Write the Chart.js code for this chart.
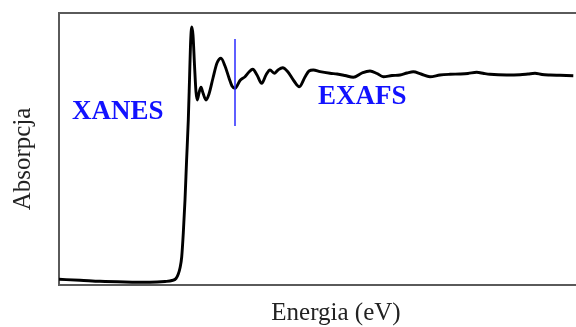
<!DOCTYPE html>
<html>
<head>
<meta charset="utf-8">
<script src="https://cdn.jsdelivr.net/npm/chart.js@4/dist/chart.umd.min.js"></script>
<style>
  html, body { margin: 0; padding: 0; background: #fff; overflow: hidden; }
  #wrap { width: 576px; height: 327px; position: relative; }
</style>
</head>
<body>
<div id="wrap"><canvas id="c" width="576" height="327"></canvas></div>
<script>
// Energy (arbitrary units) and absorption (arbitrary units)
const energy = [0, 21, 41, 66, 91, 106, 113, 117, 119.3, 121, 122.7, 124.3, 126, 127.6, 129.3, 130.5, 131.5, 132.7, 134, 135.5, 137, 138.3, 140, 142, 144, 147, 150, 154, 158, 162, 166, 170, 173, 176, 181, 186, 190, 193.7, 198, 202.7, 207, 211, 215.3, 219, 223.7, 229, 235, 240.3, 246, 250, 254.3, 261, 271, 278, 286, 294.3, 303, 311, 318, 324.3, 333, 341, 348, 354.3, 362, 371, 381, 391, 401, 409, 417.7, 425, 431, 447.7, 461, 469, 476, 483, 491, 501, 514.3];
const absorption = [5.7, 4.8, 3.7, 3, 2.7, 3.5, 4.5, 6.5, 11, 17, 28, 52, 85, 125, 165, 205, 240, 258, 250, 220, 193, 185, 192, 197.7, 192, 185, 191, 207, 222, 226.7, 219, 207, 199, 196.7, 204.5, 208.3, 213, 215.7, 210, 201.7, 210, 215, 211.7, 215, 217.3, 213, 204, 198.3, 208, 214, 215, 213.3, 211.7, 211, 209.5, 207.7, 212, 214, 211.5, 208.3, 209.5, 210, 212, 213.3, 211, 208.3, 210, 210.7, 211, 211.5, 212.7, 211.5, 210.7, 210, 210.3, 211, 211.7, 210.5, 210, 209.7, 209.3];

// XANES / EXAFS boundary energy and its marker extent
const boundaryEnergy = 176;
const boundaryRange = [159, 246];

// Region labels
const regionLabels = ['XANES', 'EXAFS'];
const regionLabelAnchors = [[13, 166.5], [259, 181]];

const xTitle = 'Energia (eV)';
const yTitle = 'Absorpcja';

const points = energy.map((e, i) => ({ x: e, y: absorption[i] }));

const decorPlugin = {
  id: 'decor',
  beforeDatasetsDraw(chart) {
    const { ctx, chartArea: a } = chart;
    ctx.save();
    ctx.strokeStyle = '#5a5a5a';
    ctx.lineWidth = 2;
    ctx.beginPath();
    ctx.moveTo(576, a.top);
    ctx.lineTo(a.left, a.top);
    ctx.lineTo(a.left, a.bottom);
    ctx.lineTo(576, a.bottom);
    ctx.stroke();
    ctx.restore();
  },
  afterDatasetsDraw(chart) {
    const { ctx, scales: { x, y } } = chart;
    ctx.save();
    // boundary line
    ctx.strokeStyle = '#2a2aff';
    ctx.lineWidth = 1.5;
    const bx = x.getPixelForValue(boundaryEnergy);
    ctx.beginPath();
    ctx.moveTo(bx, y.getPixelForValue(boundaryRange[1]));
    ctx.lineTo(bx, y.getPixelForValue(boundaryRange[0]));
    ctx.stroke();
    // region labels
    ctx.fillStyle = '#1212ff';
    ctx.font = 'bold 27px "Liberation Serif", "Times New Roman", serif';
    ctx.textBaseline = 'alphabetic';
    ctx.textAlign = 'left';
    regionLabels.forEach((t, i) => {
      ctx.fillText(t, x.getPixelForValue(regionLabelAnchors[i][0]), y.getPixelForValue(regionLabelAnchors[i][1]));
    });
    // axis titles
    ctx.fillStyle = '#222';
    ctx.font = '25px "Liberation Serif", "Times New Roman", serif';
    ctx.textAlign = 'center';
    ctx.fillText(xTitle, 336, 320);
    ctx.translate(30, 159);
    ctx.rotate(-Math.PI / 2);
    ctx.fillText(yTitle, 0, 0);
    ctx.restore();
  }
};

new Chart(document.getElementById('c'), {
  type: 'line',
  data: {
    datasets: [{
      data: points,
      borderColor: '#000',
      borderWidth: 2.9,
      pointRadius: 0,
      fill: false,
      cubicInterpolationMode: 'monotone'
    }]
  },
  options: {
    responsive: false,
    animation: false,
    devicePixelRatio: 1,
    layout: { padding: { left: 59, top: 13, right: 0, bottom: 42 } },
    plugins: { legend: { display: false }, tooltip: { enabled: false } },
    scales: {
      x: { type: 'linear', min: 0, max: 517, display: false },
      y: { type: 'linear', min: 0, max: 272, display: false }
    }
  },
  plugins: [decorPlugin]
});
</script>
</body>
</html>
